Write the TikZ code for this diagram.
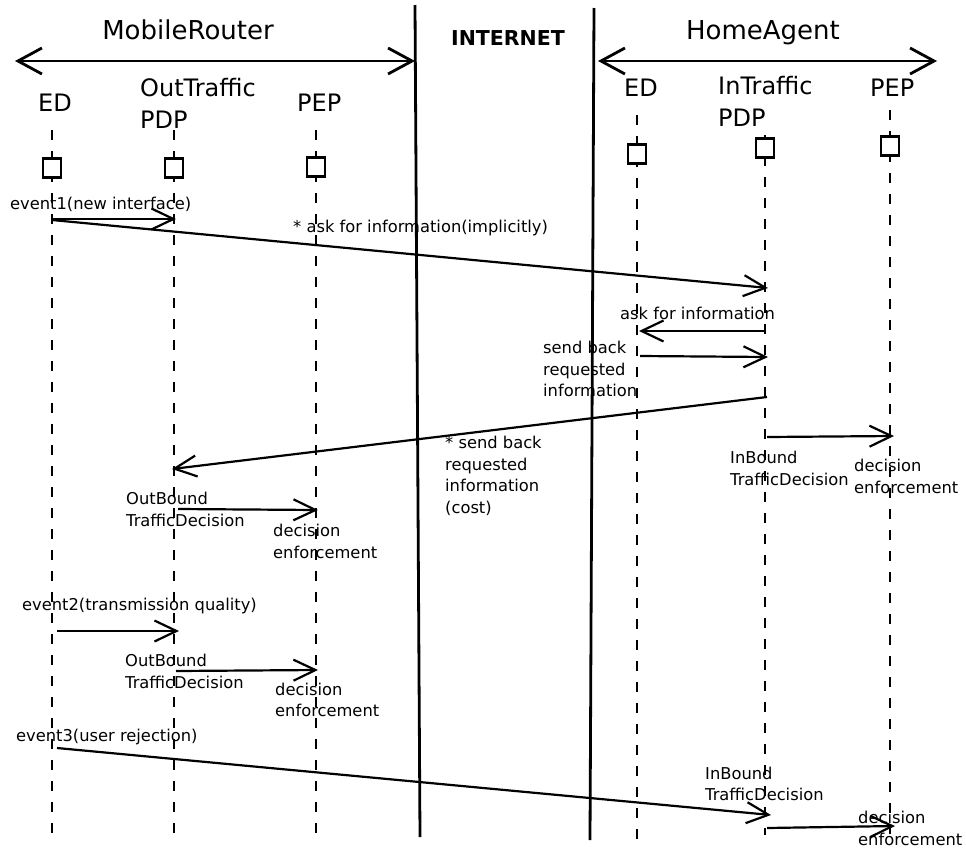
\documentclass[tikz,border=0pt]{standalone}
\usepackage{fontspec}
\setmainfont{DejaVu Sans}
\usetikzlibrary{arrows.meta}

\tikzset{
  lifeline/.style={line width=1.3pt, dash pattern=on 10pt off 11pt},
  actbox/.style={draw, line width=2.5pt, minimum width=18pt, minimum height=19pt, inner sep=0pt, fill=white},
  border/.style={line width=2.8pt},
  span/.style={line width=2.8pt, {Straight Barb[length=24pt,width=26pt]}-{Straight Barb[length=24pt,width=26pt]}},
  msg/.style={line width=2.2pt, -{Straight Barb[length=22pt,width=21pt]}},
  head/.style={font=\fontsize{26}{30}\selectfont, inner sep=0pt},
  role/.style={font=\fontsize{24}{32}\selectfont, inner sep=0pt, align=left, anchor=west},
  note/.style={font=\fontsize{16.3}{21.5}\selectfont, inner sep=0pt, align=left, anchor=west},
}

\begin{document}
\begin{tikzpicture}[x=1pt,y=-1pt]
\useasboundingbox (0,0) rectangle (966,849);

% domain boundaries around the Internet
\coordinate (bl1) at (415,5);   \coordinate (bl2) at (420,837);
\coordinate (br1) at (594,8);   \coordinate (br2) at (590,840);
\draw[border] (bl1) -- (bl2);
\draw[border] (br1) -- (br2);

% domain spans
\coordinate (mrL) at (15,61);  \coordinate (mrR) at (415,61);
\coordinate (haL) at (598,61); \coordinate (haR) at (937,61);
\draw[span] (mrL) -- (mrR);
\draw[span] (haL) -- (haR);
\node[head] (mrT) at (188,30) {MobileRouter};
\node[head] (haT) at (763,33) {HomeAgent};
\node[font=\bfseries\fontsize{20.5}{24}\selectfont, inner sep=0pt] (inet) at (508,38) {INTERNET};

% role names
\node[role] (edLn)  at (38,103)   {ED};
\node[role] (opdpn) at (140,103)  {OutTraffic\\PDP};
\node[role] (pepLn) at (297,103)  {PEP};
\node[role] (edRn)  at (624,88)   {ED};
\node[role] (ipdpn) at (718,101.5){InTraffic\\PDP};
\node[role] (pepRn) at (870,88)   {PEP};

% lifelines
\coordinate (edLt) at (52,130);   \coordinate (edLb) at (52,835);
\coordinate (opdt) at (174,130);  \coordinate (opdb) at (174,835);
\coordinate (pepLt) at (316,130); \coordinate (pepLb) at (316,835);
\coordinate (edRt) at (637,115);  \coordinate (edRb) at (637,840);
\coordinate (ipdt) at (765,135);  \coordinate (ipdb) at (765,835);
\coordinate (pepRt) at (890,110); \coordinate (pepRb) at (890,835);
\foreach \a/\b in {edLt/edLb,opdt/opdb,pepLt/pepLb,edRt/edRb,ipdt/ipdb,pepRt/pepRb}
  \draw[lifeline] (\a) -- (\b);

% activation boxes
\node[actbox] (edL)  at (52,168)  {};
\node[actbox] (opdp) at (174,168) {};
\node[actbox] (pepL) at (316,167) {};
\node[actbox] (edR)  at (637,154) {};
\node[actbox] (ipdp) at (765,148) {};
\node[actbox] (pepR) at (890,146) {};

% message end points
\coordinate (a1) at (52,219);   \coordinate (b1) at (176,219);
\coordinate (a2) at (52,220);   \coordinate (b2) at (768,288);
\coordinate (a3) at (765,331);  \coordinate (b3) at (639,331);
\coordinate (a4) at (640,356);  \coordinate (b4) at (768,357);
\coordinate (a5) at (767,397);  \coordinate (b5) at (172,469);
\coordinate (a6) at (767,437);  \coordinate (b6) at (894,436);
\coordinate (a7) at (178,509);  \coordinate (b7) at (318,510);
\coordinate (a8) at (57,631);   \coordinate (b8) at (179,631);
\coordinate (a9) at (176,671);  \coordinate (b9) at (318,670);
\coordinate (a10) at (57,748);  \coordinate (b10) at (771,815);
\coordinate (a11) at (767,828); \coordinate (b11) at (895,826);

\draw[msg] (a1) -- (b1);
\draw[msg] (a2) -- (b2);
\draw[msg] (a3) -- (b3);
\draw[msg] (a4) -- (b4);
\draw[msg] (a5) -- (b5);
\draw[msg] (a6) -- (b6);
\draw[msg] (a7) -- (b7);
\draw[msg] (a8) -- (b8);
\draw[msg] (a9) -- (b9);
\draw[msg] (a10) -- (b10);
\draw[msg] (a11) -- (b11);

% message labels
\node[note] (t1)  at (10,204)   {event1(new interface)};
\node[note] (t2)  at (293,228)  {* ask for information(implicitly)};
\node[note] (t3)  at (620,313)  {ask for information};
\node[note] (t4)  at (543,369)  {send back\\requested\\information};
\node[note] (t5)  at (445,476)  {* send back\\requested\\information\\(cost)};
\node[note] (t6)  at (730,468.5){InBound\\TrafficDecision};
\node[note] (t6b) at (854,476.5){decision\\enforcement};
\node[note] (t7)  at (126,509.5){OutBound\\TrafficDecision};
\node[note] (t7b) at (273,541.5){decision\\enforcement};
\node[note] (t8)  at (22,606)   {event2(transmission quality)};
\node[note] (t9)  at (125,671.5){OutBound\\TrafficDecision};
\node[note] (t9b) at (275,700)  {decision\\enforcement};
\node[note] (t10) at (16,737)   {event3(user rejection)};
\node[note] (t11) at (705,784)  {InBound\\TrafficDecision};
\node[note] (t11b)at (858,828.5){decision\\enforcement};
\end{tikzpicture}
\end{document}
